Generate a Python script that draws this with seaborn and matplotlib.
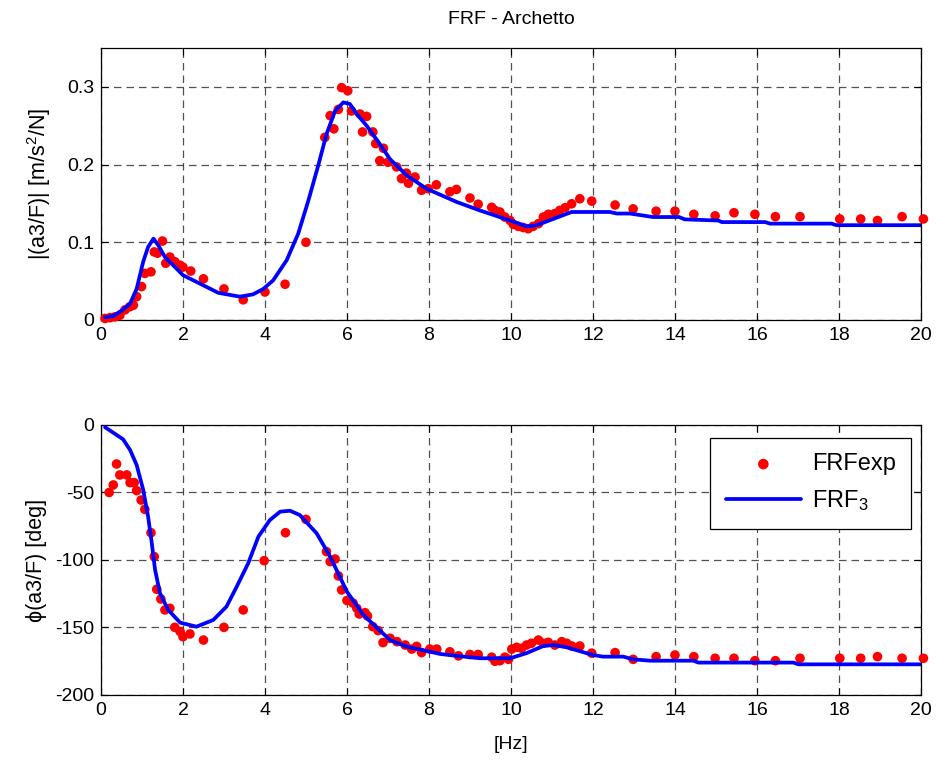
import numpy as np
import pandas as pd
import matplotlib
matplotlib.use("Agg")
import matplotlib.pyplot as plt
import seaborn as sns

# ---------------- data ----------------
f_exp_mag = [0.1, 0.22, 0.34, 0.46, 0.585, 0.7, 0.79, 0.87, 0.99, 1.07, 1.22, 1.3, 1.38,
             1.5, 1.58, 1.68, 1.8, 1.93, 2.0, 2.19, 2.5, 3.0, 3.47, 4.0, 4.49, 5.0,
             5.46, 5.59, 5.68, 5.79, 5.87, 6.02, 6.11, 6.32, 6.38, 6.48, 6.63, 6.7,
             6.8, 6.89, 7.0, 7.21, 7.33, 7.45, 7.5, 7.66, 7.82, 7.98, 8.18, 8.51, 8.67,
             9.0, 9.2, 9.53, 9.61, 9.73, 9.85, 9.98, 10.06, 10.18, 10.3, 10.42, 10.54,
             10.67, 10.79, 10.91, 11.07, 11.19, 11.32, 11.48, 11.68, 11.97, 12.54,
             12.98, 13.54, 14.0, 14.46, 14.98, 15.44, 15.95, 16.45, 17.05, 18.02,
             18.53, 18.94, 19.54, 20.06]
mag_exp = [0.002, 0.003, 0.004, 0.006, 0.013, 0.017, 0.019, 0.03, 0.043, 0.06, 0.062,
           0.0876, 0.086, 0.1016, 0.073, 0.081, 0.075, 0.0705, 0.068, 0.063, 0.053,
           0.04, 0.026, 0.036, 0.046, 0.10, 0.235, 0.263, 0.246, 0.271, 0.299, 0.295,
           0.269, 0.265, 0.242, 0.262, 0.242, 0.227, 0.205, 0.221, 0.203, 0.197,
           0.182, 0.189, 0.176, 0.184, 0.167, 0.169, 0.174, 0.165, 0.168, 0.157,
           0.149, 0.145, 0.141, 0.139, 0.1325, 0.128, 0.123, 0.1205, 0.119, 0.1175,
           0.1205, 0.124, 0.1325, 0.136, 0.137, 0.141, 0.1445, 0.1495, 0.156, 0.153,
           0.148, 0.143, 0.14, 0.14, 0.136, 0.134, 0.138, 0.136, 0.133, 0.133,
           0.130, 0.130, 0.128, 0.133, 0.130]

f_fit_mag = [0.1, 0.3, 0.5, 0.71, 0.87, 1.03, 1.15, 1.28, 1.4, 1.56, 1.76, 2.0, 2.33,
             2.86, 3.39, 3.71, 3.96, 4.2, 4.53, 4.81, 5.06, 5.3, 5.5, 5.71, 5.91, 6.07,
             6.24, 6.48, 6.8, 7.05, 7.46, 7.94, 8.67, 9.24, 9.98, 10.38, 10.63, 11.48,
             12.41, 12.58, 12.9, 13.47, 14.1, 14.24, 15.06, 15.14, 16.2, 16.32, 17.82,
             17.94, 20.0]
mag_fit = [0.0035, 0.005, 0.012, 0.021, 0.04, 0.075, 0.094, 0.1047, 0.096, 0.081,
           0.0705, 0.0577, 0.049, 0.035, 0.030, 0.033, 0.040, 0.051, 0.077, 0.111,
           0.154, 0.199, 0.239, 0.269, 0.28, 0.278, 0.265, 0.25, 0.2265, 0.207,
           0.186, 0.169, 0.152, 0.141, 0.128, 0.1205, 0.122, 0.139, 0.139, 0.137,
           0.137, 0.1325, 0.1325, 0.1295, 0.128, 0.126, 0.126, 0.124, 0.124, 0.122,
           0.122]

f_exp_ph = [0.2, 0.3, 0.38, 0.46, 0.63, 0.71, 0.81, 0.87, 0.98, 1.07, 1.22, 1.3, 1.36,
            1.46, 1.56, 1.68, 1.8, 1.93, 2.0, 2.17, 2.5, 3.0, 3.47, 3.98, 4.5, 5.0,
            5.5, 5.59, 5.71, 5.79, 5.87, 6.0, 6.15, 6.24, 6.3, 6.44, 6.5, 6.63, 6.76,
            6.88, 7.05, 7.22, 7.42, 7.58, 7.7, 7.82, 8.02, 8.19, 8.51, 8.72, 9.0, 9.2,
            9.53, 9.61, 9.73, 9.85, 9.94, 10.02, 10.14, 10.26, 10.38, 10.5, 10.67,
            10.79, 10.91, 11.07, 11.24, 11.36, 11.48, 11.68, 11.97, 12.54, 12.98,
            13.54, 14.0, 14.46, 14.98, 15.44, 15.95, 16.45, 17.05, 18.02, 18.53,
            18.94, 19.54, 20.06]
ph_exp = [-50, -44.4, -28.9, -37, -37, -42.7, -42.7, -48.6, -55.6, -62.5, -79.8,
          -97.5, -121.7, -128.9, -137, -135.8, -149.9, -153, -156.8, -154.8, -159.3,
          -149.9, -137, -100.5, -79.8, -69.9, -93.8, -101.2, -99.3, -111.8, -122.2,
          -130, -132, -135.8, -140, -139, -141.5, -149.4, -152.3, -161.2, -158,
          -160.5, -163, -166, -164, -168.6, -166, -166, -168, -171, -170, -170, -172,
          -175, -174.6, -172, -173.6, -166, -164.7, -165.4, -163, -161.7, -159.3,
          -161.7, -161, -163, -160.5, -161.7, -163.7, -163.7, -169, -168.6, -173.6,
          -171.6, -170.4, -171.6, -172.8, -172.8, -174.6, -174.6, -172.8, -172.8,
          -172.8, -171.6, -172.8, -172.8]

f_fit_ph = [0.1, 0.3, 0.54, 0.71, 0.87, 1.03, 1.15, 1.24, 1.32, 1.44, 1.64, 1.93, 2.33,
            2.74, 3.06, 3.31, 3.59, 3.84, 4.12, 4.37, 4.61, 4.85, 5.26, 5.59, 6.0,
            6.4, 7.05, 7.46, 8.27, 8.67, 9.24, 9.98, 10.38, 10.79, 11.04, 11.36, 12.0,
            12.25, 12.74, 12.98, 13.39, 14.12, 14.45, 14.57, 16.89, 17.01, 20.0]
ph_fit = [-1.7, -5.7, -10.6, -18.5, -29.6, -48, -68, -87.6, -107.4, -124.7, -137,
          -146.4, -149.4, -144.4, -134.6, -119.8, -102.5, -82.7, -70.4, -64.2, -63.5,
          -66.7, -80.2, -97.5, -123.5, -140.7, -159.3, -164.2, -169.6, -171, -172.8,
          -172.8, -169, -163.7, -163, -164.7, -170.4, -171.6, -171.6, -173.6, -174.6,
          -174.6, -174.6, -176, -176, -177.3, -177.3]

x_ticks = list(range(0, 21, 2))
mag_ticks = [0, 0.1, 0.2, 0.3]
mag_tick_labels = ["0", "0.1", "0.2", "0.3"]
ph_ticks = [0, -50, -100, -150, -200]

# ---------------- style ----------------
sns.set_style("ticks")
plt.rcParams["font.family"] = ["Liberation Sans", "DejaVu Sans"]
plt.rcParams["mathtext.fontset"] = "custom"
plt.rcParams["mathtext.rm"] = "Liberation Sans"
plt.rcParams["mathtext.it"] = "Liberation Sans"
plt.rcParams["font.size"] = 14
plt.rcParams["axes.unicode_minus"] = False
plt.rcParams["text.color"] = "black"
plt.rcParams["axes.labelcolor"] = "black"

fig = plt.figure(figsize=(9.41, 7.67), dpi=100)
ax1 = fig.add_axes([0.1073, 0.5828, 0.8714, 0.3546])
ax2 = fig.add_axes([0.1073, 0.0939, 0.8714, 0.3520])

df_me = pd.DataFrame({"f": f_exp_mag, "v": mag_exp})
df_mf = pd.DataFrame({"f": f_fit_mag, "v": mag_fit})
df_pe = pd.DataFrame({"f": f_exp_ph, "v": ph_exp})
df_pf = pd.DataFrame({"f": f_fit_ph, "v": ph_fit})

for ax, de, dfit in [(ax1, df_me, df_mf), (ax2, df_pe, df_pf)]:
    sns.scatterplot(data=de, x="f", y="v", ax=ax, color="#ff0000", s=48,
                    edgecolor="none", label="FRFexp", zorder=3, clip_on=False)
    sns.lineplot(data=dfit, x="f", y="v", ax=ax, color="#0000ff", lw=2.7,
                 sort=False, estimator=None, label="FRF$_3$", zorder=4)
    ax.set_xlim(0, 20)
    ax.set_xticks(x_ticks)
    ax.grid(True, color="#333333", linestyle=(0, (6, 4)), linewidth=0.9, alpha=0.85)
    ax.tick_params(direction="in", top=True, right=True, length=5, width=0.8,
                   labelsize=14, pad=5, colors="black")
    for sp in ax.spines.values():
        sp.set_linewidth(0.9)
        sp.set_color("black")
        sp.set_visible(True)
    ax.set_axisbelow(True)

ax1.set_ylim(0, 0.35)
ax1.set_yticks(mag_ticks)
ax1.set_yticklabels(mag_tick_labels)
ax1.set_xlabel("")
ax1.set_ylabel("|(a3/F)| [m/s$^2$/N]", fontsize=15.5, labelpad=10)
ax1.set_title("FRF - Archetto", fontsize=14, pad=17)
ax1.get_legend().remove()

ax2.set_ylim(-200, 0)
ax2.set_yticks(ph_ticks)
ax2.set_xlabel("[Hz]", fontsize=14, labelpad=12)
ax2.set_ylabel("\u03d5(a3/F) [deg]", fontsize=15.5, labelpad=6)
leg = ax2.legend(loc="upper right", fontsize=17, frameon=True, fancybox=False,
                 edgecolor="black", framealpha=1, borderpad=0.65, labelspacing=0.55,
                 handlelength=3.2, handletextpad=0.45, markerscale=1.1,
                 borderaxespad=0, bbox_to_anchor=(0.9878, 0.952))
leg.get_frame().set_linewidth(0.9)

fig.savefig("out.png", dpi=100)
